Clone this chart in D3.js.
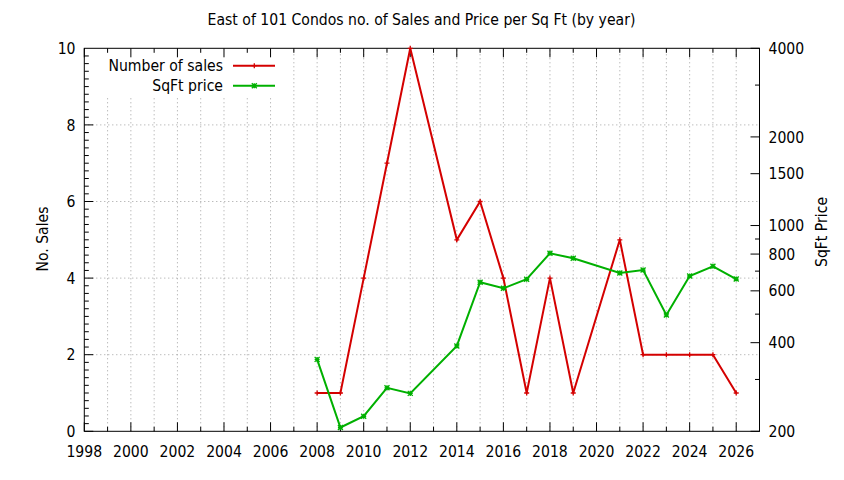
<!DOCTYPE html>
<html><head><meta charset="utf-8">
<script src="https://cdn.jsdelivr.net/npm/d3@7"></script>
<style>
html,body{margin:0;padding:0;background:#fff;}
text{font-family:"DejaVu Sans Condensed","DejaVu Sans",sans-serif;font-stretch:condensed;font-size:15.6px;fill:#000;}
</style></head>
<body><svg id="c" width="844" height="480"></svg>
<script>
const salesYears = [2008,2009,2010,2011,2012,2014,2015,2016,2017,2018,2019,2021,2022,2023,2024,2025,2026];
const salesValues = [1,1,4,7,10,5,6,4,1,4,1,5,2,2,2,2,1];
const priceYears = [2008,2009,2010,2011,2012,2014,2015,2016,2017,2018,2019,2021,2022,2023,2024,2025,2026];
const priceValues = [351,206,225,281,269,390,642,612,657,805,774,690,706,497,674,727,658];
const xTickLabels = [1998,2000,2002,2004,2006,2008,2010,2012,2014,2016,2018,2020,2022,2024,2026];
const yTickLabels = [0,2,4,6,8,10];
const y2TickLabels = [200,400,600,800,1000,1500,2000,4000];
const y2MinorTicks = [300,500,700,900,3000];
const title = "East of 101 Condos no. of Sales and Price per Sq Ft (by year)";
const seriesNames = ["Number of sales","SqFt price"];

const svg = d3.select("#c");
const L=84.3, R=759.5, T=48.3, B=431.3;
const x = d3.scaleLinear().domain([1998,2027]).range([L,R]);
const y = d3.scaleLinear().domain([0,10]).range([B,T]);
const y2 = d3.scaleLog().domain([200,4000]).range([B,T]);
const red="#d40000", green="#00b000";

// grid
const g = svg.append("g");
const years = d3.range(1999,2027);
g.selectAll("line.vg").data(years).enter().append("line")
  .attr("x1",d=>x(d)).attr("x2",d=>x(d)).attr("y1",B).attr("y2",T)
  .attr("stroke","#a0a0a0").attr("stroke-width",1).attr("stroke-dasharray","1,3");
g.selectAll("line.hg").data([2,4,6,8]).enter().append("line")
  .attr("x1",L).attr("x2",R).attr("y1",d=>y(d)).attr("y2",d=>y(d))
  .attr("stroke","#a0a0a0").attr("stroke-width",1).attr("stroke-dasharray","1,3");

// legend box (opaque)
svg.append("rect").attr("x",L+1).attr("y",T+1).attr("width",196).attr("height",47).attr("fill","#fff");

// ticks
const tk = svg.append("g").attr("stroke","#000").attr("stroke-width",1);
d3.range(1998,2028).forEach(d=>{
  const len = (d%2===0)?9:4.5;
  tk.append("line").attr("x1",x(d)).attr("x2",x(d)).attr("y1",B).attr("y2",B-len);
  tk.append("line").attr("x1",x(d)).attr("x2",x(d)).attr("y1",T).attr("y2",T+len);
});
d3.range(0,50).forEach(i=>{
  const v=i*0.2; const len=(i%10===0)?9:4.5;
  tk.append("line").attr("x1",L).attr("x2",L+len).attr("y1",y(v)).attr("y2",y(v));
});
y2TickLabels.forEach(v=>tk.append("line").attr("x1",R).attr("x2",R-9).attr("y1",y2(v)).attr("y2",y2(v)));
y2MinorTicks.forEach(v=>tk.append("line").attr("x1",R).attr("x2",R-4.5).attr("y1",y2(v)).attr("y2",y2(v)));

// border
svg.append("rect").attr("x",L).attr("y",T).attr("width",R-L).attr("height",B-T)
  .attr("fill","none").attr("stroke","#000").attr("stroke-width",1);

// tick labels
svg.selectAll("text.xl").data(xTickLabels).enter().append("text")
  .attr("x",d=>x(d)).attr("y",456.5).attr("text-anchor","middle").text(d=>d);
svg.selectAll("text.yl").data(yTickLabels).enter().append("text")
  .attr("x",75.5).attr("y",d=>y(d)).attr("dy","0.36em").attr("text-anchor","end").text(d=>d);
svg.selectAll("text.y2l").data(y2TickLabels).enter().append("text")
  .attr("x",768.5).attr("y",d=>y2(d)).attr("dy","0.36em").attr("text-anchor","start").text(d=>d);

// titles
svg.append("text").attr("x",421.5).attr("y",25).attr("text-anchor","middle").text(title);
svg.append("text").attr("transform","translate(48,239) rotate(-90)").attr("text-anchor","middle").text("No. Sales");
svg.append("text").attr("transform","translate(826.5,232) rotate(-90)").attr("text-anchor","middle").text("SqFt Price");

// series
const sales = salesYears.map((d,i)=>[d,salesValues[i]]);
const price = priceYears.map((d,i)=>[d,priceValues[i]]);
svg.append("path").datum(sales).attr("fill","none").attr("stroke",red).attr("stroke-width",2)
  .attr("d",d3.line().x(d=>x(d[0])).y(d=>y(d[1])));
svg.append("path").datum(price).attr("fill","none").attr("stroke",green).attr("stroke-width",2)
  .attr("d",d3.line().x(d=>x(d[0])).y(d=>y2(d[1])));

function plus(sel,cx,cy,col){
  sel.append("path").attr("d",`M${cx-2.5},${cy}H${cx+2.5}M${cx},${cy-2.5}V${cy+2.5}`).attr("stroke",col).attr("stroke-width",1.3);
}
function star(sel,cx,cy,col){
  sel.append("path").attr("d",`M${cx-2.5},${cy}H${cx+2.5}M${cx},${cy-2.5}V${cy+2.5}M${cx-2.5},${cy-2.5}L${cx+2.5},${cy+2.5}M${cx-2.5},${cy+2.5}L${cx+2.5},${cy-2.5}`).attr("stroke",col).attr("stroke-width",1.3);
}
const mk = svg.append("g");
sales.forEach(d=>plus(mk,x(d[0]),y(d[1]),red));
price.forEach(d=>star(mk,x(d[0]),y2(d[1]),green));

// legend
const lg = svg.append("g");
[[seriesNames[0],red,65.7,plus],[seriesNames[1],green,85.7,star]].forEach(([n,c,yy,f])=>{
  lg.append("text").attr("x",223).attr("y",yy).attr("dy","0.36em").attr("text-anchor","end").text(n);
  lg.append("line").attr("x1",233).attr("x2",275).attr("y1",yy).attr("y2",yy).attr("stroke",c).attr("stroke-width",2);
  f(lg,254.3,yy,c);
});
</script></body></html>
